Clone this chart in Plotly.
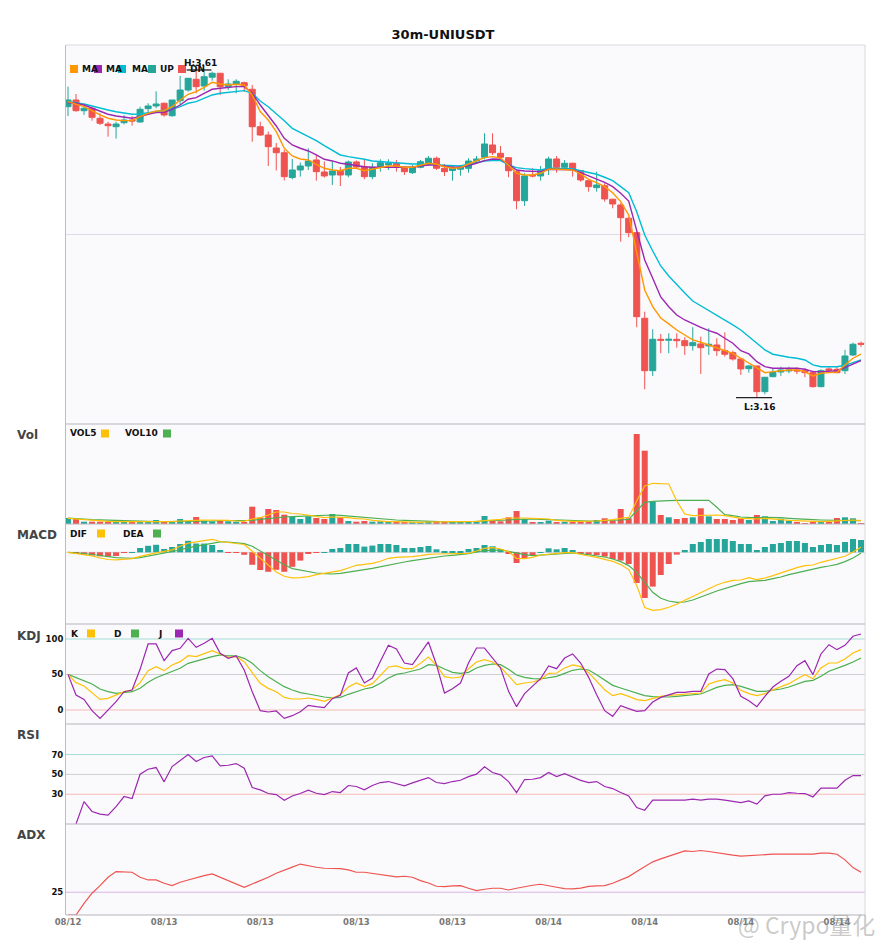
import plotly.graph_objects as go
from plotly.subplots import make_subplots

TITLE = "30m-UNIUSDT"
TICK_IDX = [0, 12, 24, 36, 48, 60, 72, 84, 96]
TICK_TEXT = ["08/12", "08/13", "08/13", "08/13", "08/13", "08/14", "08/14", "08/14", "08/14"]

# candles (USDT)
open_ = [3.5596, 3.5688, 3.5541, 3.5574, 3.5437, 3.5358, 3.5321, 3.5376, 3.5413, 3.5386,
         3.5569, 3.5606, 3.5643, 3.5472, 3.5678, 3.5825, 3.5972, 3.5880, 3.6000, 3.6055,
         3.5871, 3.5908, 3.5926, 3.5835, 3.5321, 3.5207, 3.5029, 3.4964, 3.4624, 3.4727,
         3.4782, 3.4864, 3.4699, 3.4658, 3.4720, 3.4658, 3.4837, 3.4772, 3.4635, 3.4764,
         3.4796, 3.4819, 3.4764, 3.4690, 3.4764, 3.4819, 3.4888, 3.4750, 3.4720, 3.4737,
         3.4750, 3.4855, 3.4901, 3.5070, 3.4956, 3.4896, 3.4704, 3.4305, 3.4658, 3.4645,
         3.4737, 3.4878, 3.4764, 3.4819, 3.4717, 3.4580, 3.4484, 3.4511, 3.4325, 3.4246,
         3.4064, 3.3866, 3.2691, 3.1971, 3.2402, 3.2389, 3.2402, 3.2383, 3.2315, 3.2338,
         3.2311, 3.2324, 3.2246, 3.2219, 3.2132, 3.1999, 3.2036, 3.1683, 3.1889, 3.1953,
         3.1967, 3.1981, 3.1971, 3.1944, 3.1752, 3.1995, 3.1990, 3.1971, 3.2187, 3.2347]
high = [3.5871, 3.5770, 3.5596, 3.5588, 3.5505, 3.5390, 3.5390, 3.5478, 3.5468, 3.5596,
        3.5643, 3.5807, 3.5651, 3.5688, 3.6018, 3.5986, 3.6100, 3.6077, 3.6077, 3.6055,
        3.5972, 3.5972, 3.5939, 3.5894, 3.5390, 3.5253, 3.5098, 3.5001, 3.4878, 3.4830,
        3.5025, 3.4933, 3.4844, 3.4844, 3.4768, 3.4857, 3.4857, 3.4864, 3.4819, 3.4874,
        3.4874, 3.4864, 3.4782, 3.4796, 3.4864, 3.4919, 3.4910, 3.4809, 3.4782, 3.4796,
        3.4888, 3.4919, 3.5231, 3.5231, 3.5056, 3.4896, 3.4717, 3.4682, 3.4750, 3.4782,
        3.4910, 3.4919, 3.4864, 3.4827, 3.4727, 3.4599, 3.4704, 3.4544, 3.4333, 3.4270,
        3.4078, 3.3880, 3.2781, 3.2540, 3.2475, 3.2485, 3.2485, 3.2430, 3.2567, 3.2439,
        3.2554, 3.2416, 3.2498, 3.2246, 3.2141, 3.2050, 3.2036, 3.1881, 3.2004, 3.2026,
        3.2026, 3.2017, 3.2004, 3.1971, 3.1990, 3.2017, 3.2026, 3.2256, 3.2356, 3.2370]
low = [3.5468, 3.5527, 3.5482, 3.5404, 3.5345, 3.5184, 3.5157, 3.5354, 3.5335, 3.5376,
       3.5505, 3.5574, 3.5459, 3.5459, 3.5619, 3.5802, 3.5780, 3.5816, 3.5953, 3.5757,
       3.5825, 3.5780, 3.5802, 3.5115, 3.5194, 3.4782, 3.4720, 3.4583, 3.4599, 3.4635,
       3.4727, 3.4580, 3.4624, 3.4521, 3.4507, 3.4627, 3.4741, 3.4599, 3.4599, 3.4704,
       3.4727, 3.4704, 3.4658, 3.4672, 3.4750, 3.4782, 3.4727, 3.4645, 3.4580, 3.4649,
       3.4690, 3.4819, 3.4874, 3.4933, 3.4874, 3.4627, 3.4187, 3.4233, 3.4627, 3.4580,
       3.4658, 3.4690, 3.4727, 3.4635, 3.4566, 3.4429, 3.4429, 3.4292, 3.4201, 3.3742,
       3.3803, 3.2567, 3.1716, 3.1899, 3.2210, 3.2210, 3.2287, 3.2187, 3.2246, 3.1926,
       3.2187, 3.2173, 3.2164, 3.2109, 3.1912, 3.1944, 3.1600, 3.1647, 3.1881, 3.1899,
       3.1936, 3.1926, 3.1881, 3.1738, 3.1743, 3.1958, 3.1936, 3.1926, 3.2173, 3.2299]
close = [3.5688, 3.5541, 3.5574, 3.5450, 3.5368, 3.5335, 3.5358, 3.5413, 3.5400, 3.5560,
         3.5606, 3.5633, 3.5482, 3.5688, 3.5825, 3.5986, 3.5871, 3.6008, 3.6055, 3.5871,
         3.5908, 3.5945, 3.5880, 3.5321, 3.5207, 3.5047, 3.4964, 3.4635, 3.4727, 3.4782,
         3.4850, 3.4704, 3.4645, 3.4713, 3.4658, 3.4837, 3.4768, 3.4635, 3.4764, 3.4827,
         3.4819, 3.4764, 3.4704, 3.4764, 3.4841, 3.4888, 3.4750, 3.4704, 3.4750, 3.4764,
         3.4850, 3.4878, 3.5084, 3.4964, 3.4901, 3.4717, 3.4305, 3.4645, 3.4645, 3.4717,
         3.4878, 3.4764, 3.4819, 3.4727, 3.4590, 3.4498, 3.4521, 3.4329, 3.4260, 3.4072,
         3.3866, 3.2713, 3.1971, 3.2402, 3.2389, 3.2402, 3.2383, 3.2315, 3.2356, 3.2287,
         3.2334, 3.2246, 3.2197, 3.2132, 3.1995, 3.2036, 3.1683, 3.1881, 3.1949, 3.1981,
         3.1981, 3.1967, 3.1944, 3.1752, 3.1971, 3.1977, 3.1944, 3.2173, 3.2334, 3.2334]

ma_fast = [3.5665, 3.5633, 3.5596, 3.5541, 3.5482, 3.5437, 3.5413, 3.5404, 3.5404, 3.5459,
           3.5505, 3.5537, 3.5541, 3.5596, 3.5688, 3.5766, 3.5802, 3.5862, 3.5931, 3.5908,
           3.5894, 3.5904, 3.5894, 3.5757, 3.5530, 3.5413, 3.5253, 3.5025, 3.4919, 3.4878,
           3.4864, 3.4805, 3.4750, 3.4727, 3.4717, 3.4750, 3.4750, 3.4717, 3.4737, 3.4764,
           3.4782, 3.4782, 3.4764, 3.4764, 3.4796, 3.4819, 3.4805, 3.4772, 3.4750, 3.4759,
           3.4809, 3.4855, 3.4896, 3.4910, 3.4888, 3.4796, 3.4682, 3.4658, 3.4658, 3.4682,
           3.4737, 3.4737, 3.4737, 3.4727, 3.4672, 3.4599, 3.4553, 3.4498, 3.4415, 3.4292,
           3.4109, 3.3583, 3.3079, 3.2850, 3.2695, 3.2613, 3.2530, 3.2461, 3.2393, 3.2361,
           3.2324, 3.2287, 3.2256, 3.2210, 3.2142, 3.2073, 3.2004, 3.1944, 3.1958, 3.1971,
           3.1981, 3.1981, 3.1958, 3.1899, 3.1936, 3.1944, 3.1949, 3.2050, 3.2142, 3.2197]
ma_mid = [3.5651, 3.5643, 3.5619, 3.5574, 3.5527, 3.5492, 3.5468, 3.5451, 3.5437, 3.5459,
          3.5492, 3.5514, 3.5519, 3.5560, 3.5619, 3.5698, 3.5720, 3.5780, 3.5835, 3.5849,
          3.5862, 3.5871, 3.5871, 3.5780, 3.5619, 3.5482, 3.5331, 3.5162, 3.5070, 3.5025,
          3.4988, 3.4933, 3.4874, 3.4851, 3.4819, 3.4805, 3.4786, 3.4772, 3.4764, 3.4764,
          3.4764, 3.4764, 3.4759, 3.4764, 3.4782, 3.4796, 3.4796, 3.4782, 3.4764, 3.4764,
          3.4786, 3.4819, 3.4855, 3.4878, 3.4874, 3.4805, 3.4727, 3.4713, 3.4704, 3.4704,
          3.4737, 3.4737, 3.4737, 3.4731, 3.4690, 3.4645, 3.4607, 3.4558, 3.4498, 3.4407,
          3.4301, 3.3903, 3.3491, 3.3240, 3.2983, 3.2850, 3.2736, 3.2667, 3.2613, 3.2567,
          3.2521, 3.2485, 3.2416, 3.2348, 3.2246, 3.2201, 3.2095, 3.2026, 3.2004, 3.2004,
          3.2004, 3.2004, 3.1991, 3.1958, 3.1958, 3.1963, 3.1971, 3.2013, 3.2059, 3.2109]
ma_slow = [3.5665, 3.5651, 3.5633, 3.5606, 3.5574, 3.5551, 3.5527, 3.5514, 3.5492, 3.5496,
           3.5514, 3.5527, 3.5541, 3.5560, 3.5596, 3.5643, 3.5665, 3.5711, 3.5757, 3.5780,
           3.5794, 3.5812, 3.5816, 3.5780, 3.5674, 3.5596, 3.5505, 3.5404, 3.5299, 3.5245,
           3.5194, 3.5129, 3.5061, 3.5002, 3.4933, 3.4910, 3.4896, 3.4874, 3.4851, 3.4841,
           3.4833, 3.4823, 3.4813, 3.4809, 3.4809, 3.4809, 3.4800, 3.4791, 3.4782, 3.4782,
           3.4809, 3.4833, 3.4851, 3.4855, 3.4855, 3.4796, 3.4759, 3.4745, 3.4737, 3.4727,
           3.4750, 3.4750, 3.4750, 3.4745, 3.4717, 3.4690, 3.4668, 3.4627, 3.4580, 3.4498,
           3.4415, 3.4154, 3.3834, 3.3615, 3.3409, 3.3272, 3.3148, 3.3038, 3.2928, 3.2864,
           3.2795, 3.2726, 3.2667, 3.2599, 3.2530, 3.2438, 3.2348, 3.2256, 3.2197, 3.2173,
           3.2155, 3.2142, 3.2118, 3.2050, 3.2026, 3.2026, 3.2026, 3.2045, 3.2081, 3.2118]

# volume (k)
volume = [6, 5, 2.3, 2.3, 2.3, 2.3, 1.7, 2.3, 1.3, 1.7,
          1.7, 4, 1.3, 2.3, 5, 2.7, 7, 3.3, 2.7, 3.3,
          2.7, 2.3, 1.7, 17.3, 6.7, 15, 14, 9.3, 7.3, 5,
          7.7, 6, 5, 10, 6.7, 3, 2.3, 3, 2.3, 2.7,
          1.3, 2.3, 1.3, 1.3, 1.7, 2.7, 3, 1.3, 2.7, 1.7,
          2.3, 1.7, 8, 3.3, 2.7, 6.7, 13, 5, 2, 2,
          3.3, 2, 2.3, 1.3, 2.7, 2.7, 4, 5.7, 3.3, 15,
          5.7, 90, 73.3, 22.7, 9, 6.7, 5, 6, 6.7, 15.7,
          7.7, 5, 5, 4, 5.7, 4, 9, 7.7, 3, 5.3,
          3, 2, 1, 2.3, 1.3, 1.3, 6, 6.7, 5.7, 0.7]
vol5 = [5.7, 5, 4.3, 3.7, 3.3, 2.7, 2.3, 2.3, 2.3, 2,
        1.7, 2.3, 2.3, 2.3, 3, 3, 3.7, 4, 4, 4,
        3.7, 3, 2.7, 5, 6.3, 9, 12, 12, 10.5, 10,
        8.7, 7.3, 6.3, 7, 7, 6.3, 5.3, 5, 3.7, 2.7,
        2.3, 2.3, 2, 1.7, 1.7, 2, 2.3, 2, 2.3, 2.3,
        2.3, 2.7, 3.3, 3.7, 4.7, 6, 6.3, 6, 5.7, 5.3,
        5, 3.7, 3, 2.7, 2.7, 2.7, 3, 3.7, 4.3, 5.7,
        6.7, 23, 38, 40.7, 40.3, 40, 23, 10, 8.3, 8.7,
        9.3, 9, 8.3, 7, 5.7, 5.3, 5, 5.7, 5.3, 4.3,
        3.7, 3.3, 3, 2.3, 2.3, 2.7, 3, 4, 4, 3.3]
vol10 = [6, 5.7, 5, 4.3, 4, 3.7, 3.3, 3, 2.7, 2.3,
         2.3, 2.3, 2.3, 2.3, 2.7, 2.7, 3, 3, 3, 3.3,
         3.3, 3.3, 3.3, 3.7, 4.7, 5.7, 6.3, 7, 7.3, 7.7,
         8.3, 8.7, 8.7, 9, 8.7, 8, 7.3, 6.3, 5.7, 5,
         4.3, 4, 3.7, 3.3, 3, 2.7, 2.3, 2, 2, 2,
         2.3, 2.3, 3, 3, 3.3, 4, 4.7, 5, 5, 4.7,
         4.3, 4, 3.7, 3.3, 3, 3, 3, 3.3, 3.3, 4,
         4.7, 13, 21.7, 22.7, 23.3, 23.3, 23.7, 23.7, 23.7, 23.7,
         23.7, 16.7, 9.3, 8.3, 7, 6.7, 6.7, 6.7, 6.7, 6.3,
         5.7, 5, 4.7, 4.3, 4, 3.7, 3.7, 3.7, 3.3, 3.3]

# MACD (x 0.001)
macd_hist = [0, -1.5, -2.3, -3.2, -4, -4.3, -3.7, -0.7, 0.2, 4.3,
             6.5, 7.5, 3.3, 5.3, 8.3, 11.5, 8.8, 8.7, 7.3, 2.3,
             -0.7, -0.7, -2.5, -12.5, -17.7, -19.5, -17.5, -19.5, -14.5, -8.3,
             -1.7, -0.7, 0.3, 3.3, 4.3, 8.3, 8.3, 5.7, 6.7, 8.3,
             8.3, 7.3, 4.3, 4.3, 5.3, 6.3, 3, 1.3, 1.3, 1.3,
             3.3, 4.3, 7.3, 6, 3.3, -1.7, -10.7, -6, -3.3, 0.3,
             4, 3, 4.3, 2.3, -1.7, -2.3, -2.7, -4.3, -6.7, -8.3,
             -11.7, -30.7, -45.7, -34.3, -22.7, -11.7, -2.3, 2.3, 8.3, 10.3,
             13.3, 13.3, 13.3, 11.3, 8.3, 8.3, 2.3, 5.3, 8.3, 9.3,
             11.3, 11.3, 9.3, 5.3, 7.3, 8.3, 7.3, 10.3, 13.3, 12.3]
dif = [0, -1.2, -2, -3.7, -5.7, -7.2, -7.5, -7.2, -6.3, -4,
       -2, -0.5, 1, 2.5, 6, 9.2, 10.5, 12, 13, 10.8,
       10, 9.3, 7.8, 1, -6, -13.3, -19.7, -24, -25.5, -25.3,
       -24.3, -22.3, -21, -20, -18.3, -15.7, -13, -12, -11, -9,
       -6, -5, -5, -4.3, -3.3, -2, -1.7, -1.7, -1.3, -1,
       -1, 1.3, 4, 4.7, 3.3, 0.7, -6, -6.3, -5, -2.7,
       -1.7, -0.7, -0.3, -0.3, -2.3, -3.7, -5, -7, -9, -12.3,
       -17.3, -33.3, -55.3, -58, -57.3, -55, -52, -48, -44.3, -40,
       -36.3, -32.7, -30, -28, -27.7, -25.3, -27.3, -25.7, -23.3, -20.7,
       -17.7, -15.3, -13.3, -12.7, -10, -8, -6.7, -4, 0.3, 5]
dea = [0, -0.3, -1.2, -2.2, -3.3, -4.3, -5.3, -5.7, -6, -5.3,
       -3.8, -2.5, -1, 0.3, 2.3, 4.7, 6.2, 7.8, 9.3, 10.5,
       10.3, 9.7, 8.7, 6, 1.3, -3.5, -8.2, -12.5, -16.3, -17.7,
       -19.3, -20.7, -21.3, -21.7, -21, -20, -18.7, -17.3, -16, -14.3,
       -12.7, -11, -9.7, -8.3, -7, -6, -4.7, -3.7, -3, -2.3,
       -1.3, 0.3, 1.7, 2, 2.3, 1, -0.7, -2.3, -3.3, -2.7,
       -2, -1.3, -1, -0.7, -1.3, -2.3, -3, -4.7, -6.7, -9.3,
       -13.3, -20, -30, -40, -46, -48.7, -50, -49.7, -47.7, -45,
       -41.7, -38.7, -36, -33.3, -31.3, -29.3, -28.7, -28, -26.3, -24.7,
       -22.3, -20.3, -18.3, -16.3, -15, -13.7, -12, -9.3, -5.7, -1]

kdj_k = [50.2, 38.5, 33.8, 24.4, 15, 16.4, 21.1, 25.8, 28.2, 38.5,
         55.4, 61, 55.4, 63.4, 68.1, 76.5, 75.1, 79.8, 83.6, 78.9,
         74.2, 75.1, 68.1, 52.6, 37.6, 30.5, 25.8, 17.8, 15.5, 15.5,
         16.9, 15, 12.2, 16.9, 21.6, 32.4, 38, 32.9, 37.1, 48.8,
         60.6, 62, 58.2, 58.2, 65.7, 74.6, 62.9, 46.9, 45.1, 46.5,
         58.2, 67.6, 70.9, 67.6, 60.1, 48.4, 35.7, 38, 39.4, 42.7,
         51.6, 52.1, 59.2, 63.4, 61, 52.6, 41.3, 28.6, 20.2, 23,
         19.2, 14.6, 13.1, 16, 19.2, 20.7, 21.6, 23, 23.9, 23.9,
         36.6, 40.4, 42.7, 38, 27.7, 23, 20.2, 23, 28.6, 33.3,
         37.1, 43.7, 49.8, 44.1, 59.2, 66.2, 66.2, 71.8, 80.3, 85]
kdj_d = [50.2, 46, 41.3, 36.6, 29.6, 25.8, 23.5, 24.4, 25.8, 30.5,
         39, 45.5, 50.2, 54.9, 58.7, 65.7, 69, 71.8, 75.1, 77.5,
         76.1, 76.1, 72.8, 65.7, 55.4, 46.9, 39.9, 32.9, 28.2, 24.5,
         22.5, 20.2, 18.3, 16.9, 17.8, 22.1, 26.3, 29.6, 31.9, 37.6,
         45.1, 50.2, 52.1, 54.5, 57.7, 63.8, 62.9, 57.7, 53.1, 51.6,
         53.1, 59.2, 62.9, 64.8, 63.8, 57.3, 49.3, 46, 44.1, 43.7,
         46, 47.4, 51.6, 55.9, 57.7, 56.3, 49.8, 42.7, 34.7, 31,
         27.2, 23, 20.2, 18.8, 18.3, 18.3, 19.2, 20.2, 21.1, 22.5,
         27.2, 31.9, 34.7, 35.7, 33.3, 29.6, 26.3, 26.3, 27.7, 29.6,
         32.4, 36.6, 40.4, 41.8, 47.4, 54.5, 58.2, 62.9, 67.6, 73.2]
kdj_j = [50.2, 21.1, 15, -0.9, -11.7, 0, 11.7, 25.8, 28.2, 57.3,
         93, 93, 69.5, 83.6, 86.9, 100.9, 88.3, 93.9, 100.9, 79.8,
         72.8, 76.1, 56.3, 25.8, -0.9, -2.8, -1.4, -11.7, -8, -2.5,
         6.6, 4.7, 3.3, 16, 20.7, 52.1, 59.2, 38, 45.1, 68.5,
         91.1, 85.9, 66.2, 63.8, 80.3, 95.8, 63.8, 23.9, 30, 38,
         66.2, 87.3, 87.3, 73.2, 59.2, 26.3, 4.7, 23, 33.3, 44.1,
         62, 58.2, 73.2, 78.9, 66.2, 46, 21.6, -0.9, -8.9, 6.1,
         1.9, -1.9, -0.9, 11.3, 17.8, 21.6, 24.9, 24.9, 26.3, 26.3,
         50.7, 57.7, 56.8, 44.1, 19.2, 13.1, 4.7, 19.2, 32.4, 40.4,
         47.4, 62.4, 69.5, 49.8, 78.9, 92, 85, 91.1, 103.8, 107]

rsi = [None, 0, 22.6, 12.6, 9.9, 8.9, 17.6, 27.7, 25.7, 50.2,
       55.2, 56.9, 42.5, 57.9, 63.6, 70, 63, 67, 68.6, 58.6,
       59.2, 60.9, 56.2, 36.7, 34.4, 30.7, 29.7, 24, 28.2, 30.7,
       34.1, 31, 29.7, 32.7, 31.7, 38.8, 37.8, 34.4, 38.8, 41.8,
       42.8, 40.8, 38.4, 41.4, 44.5, 46.8, 41.8, 40.8, 42.8, 44.1,
       47.8, 50.2, 57.6, 51.9, 49.5, 42.8, 31.7, 44.8, 45.1, 46.8,
       51.9, 47.8, 50.8, 47.5, 44, 41.8, 42.8, 37.8, 35.7, 31.7,
       28.3, 16.6, 13.9, 24, 24, 24, 24, 24, 25, 24,
       25, 25, 24, 22.6, 21.6, 23.3, 20, 28.3, 30, 30,
       31.7, 31, 30.7, 27.3, 36.1, 36.1, 36.1, 44.1, 48.8, 48.8]

adx = [0, 0, 12.8, 23.9, 32.3, 41.5, 47.7, 47.7, 47, 41.5,
       38.5, 38.5, 34.9, 32.3, 36, 38.5, 41.1, 43.3, 45.2, 41.5,
       37.8, 33.8, 30.5, 34.1, 37.4, 41.5, 45.9, 49.6, 52.6, 56,
       54, 52.5, 51.4, 51.4, 51, 49.6, 47, 47, 45.9, 44.1,
       43, 41.9, 42.6, 41.5, 37.8, 35.2, 31.6, 31.2, 31.9, 32.3,
       29.4, 26.8, 28.3, 29.4, 29.4, 27.5, 29.4, 31.2, 32.7, 33.8,
       31.9, 30.5, 29, 28.6, 29.5, 31.5, 31.9, 32.3, 34.9, 38.9,
       42.2, 47.7, 53.2, 58.4, 61.7, 64.6, 67.9, 70.5, 69.8, 70.9,
       69.8, 68.3, 66.4, 65.7, 64.6, 65.3, 66.1, 66.1, 66.8, 66.8,
       66.8, 66.1, 66.1, 66.8, 67.9, 67.9, 66.8, 60.6, 52.1, 47]

UP, DN = "#26a69a", "#ef5350"
ORANGE, PURPLE, CYAN = "#ff9800", "#9c27b0", "#00bcd4"
YELLOW, GREEN = "#ffc107", "#4caf50"
FONT = "DejaVu Sans"

# the page body adds 8px around the figure, so the figure is sized to fit inside the window
W, H = 869, 934
ML, MR, MT, MB = 58, 12, 37, 27
# plot area in page pixels
PL, PT = 8 + ML, 8 + MT
PW, PH = W - ML - MR, H - MT - MB


def pxx(x):
    return (x - PL) / PW


def pxy(y):
    return (PT + PH - y) / PH


idx = list(range(len(close)))
n = len(close)

fig = make_subplots(rows=6, cols=1, shared_xaxes=True, vertical_spacing=0,
                    row_heights=[379, 100, 100, 100, 100, 91])

fig.add_trace(go.Candlestick(
    x=idx, open=open_, high=high, low=low, close=close,
    increasing=dict(line=dict(color=UP, width=1), fillcolor=UP),
    decreasing=dict(line=dict(color=DN, width=1), fillcolor=DN),
    whiskerwidth=0, hoverinfo="skip"), row=1, col=1)
for ys, c in [(ma_slow, CYAN), (ma_mid, PURPLE), (ma_fast, ORANGE)]:
    fig.add_trace(go.Scatter(x=idx, y=ys, mode="lines", line=dict(color=c, width=1.4)), row=1, col=1)

bar_colors = [UP if c >= o else DN for o, c in zip(open_, close)]
fig.add_trace(go.Bar(x=idx, y=volume, marker=dict(color=bar_colors, line=dict(width=0))), row=2, col=1)
fig.add_trace(go.Scatter(x=idx, y=vol10, mode="lines", line=dict(color=GREEN, width=1.2)), row=2, col=1)
fig.add_trace(go.Scatter(x=idx, y=vol5, mode="lines", line=dict(color=YELLOW, width=1.2)), row=2, col=1)

hist_colors = [UP if v >= 0 else DN for v in macd_hist]
fig.add_trace(go.Bar(x=idx, y=macd_hist, marker=dict(color=hist_colors, line=dict(width=0))), row=3, col=1)
fig.add_trace(go.Scatter(x=idx, y=dea, mode="lines", line=dict(color=GREEN, width=1.2)), row=3, col=1)
fig.add_trace(go.Scatter(x=idx, y=dif, mode="lines", line=dict(color=YELLOW, width=1.2)), row=3, col=1)

fig.add_trace(go.Scatter(x=idx, y=kdj_d, mode="lines", line=dict(color=GREEN, width=1.2)), row=4, col=1)
fig.add_trace(go.Scatter(x=idx, y=kdj_k, mode="lines", line=dict(color=YELLOW, width=1.2)), row=4, col=1)
fig.add_trace(go.Scatter(x=idx, y=kdj_j, mode="lines", line=dict(color=PURPLE, width=1.2)), row=4, col=1)

fig.add_trace(go.Scatter(x=idx, y=rsi, mode="lines", line=dict(color=PURPLE, width=1.2)), row=5, col=1)
fig.add_trace(go.Scatter(x=idx, y=adx, mode="lines", line=dict(color=DN, width=1.2)), row=6, col=1)

fig.update_xaxes(range=[-0.25, n - 0.5], showgrid=False, zeroline=False, showticklabels=False,
                 rangeslider_visible=False, ticks="")
fig.update_xaxes(row=6, col=1, showticklabels=True, tickvals=TICK_IDX, ticktext=TICK_TEXT,
                 tickfont=dict(family=FONT, size=8.5, color="#777777", weight="bold"))
fig.update_yaxes(showgrid=False, zeroline=False, showticklabels=False, ticks="",
                 showline=True, linecolor="#bcbcc4", linewidth=1)
tick_font = dict(family=FONT, size=8.5, color="#111111", weight="bold")
fig.update_yaxes(row=1, col=1, range=[3.1239, 3.6443])
fig.update_yaxes(row=2, col=1, range=[0, 100])
fig.update_yaxes(row=3, col=1, range=[-71.7, 28.3])
fig.update_yaxes(row=4, col=1, range=[-19.7, 121.1], showticklabels=True, tickvals=[0, 50, 100], tickfont=tick_font)
fig.update_yaxes(row=5, col=1, range=[0, 100.8], showticklabels=True, tickvals=[30, 50, 70], tickfont=tick_font)
fig.update_yaxes(row=6, col=1, range=[0, 100], showticklabels=True, tickvals=[25], tickfont=tick_font)

shapes = []
# frame and pane separators
shapes.append(dict(type="line", xref="paper", yref="paper", x0=0, x1=1, y0=1, y1=1, line=dict(color="#d8d8e0", width=1)))
shapes.append(dict(type="line", xref="paper", yref="paper", x0=1, x1=1, y0=0, y1=1, line=dict(color="#d8d8e0", width=1)))
for yb in [424, 524, 624, 724, 824, 915]:
    shapes.append(dict(type="line", xref="paper", yref="paper", x0=0, x1=1, y0=pxy(yb), y1=pxy(yb),
                       line=dict(color="#b4b4bc", width=1)))
shapes.append(dict(type="line", xref="paper", yref="y domain", x0=0, x1=1, y0=0.5, y1=0.5,
                   line=dict(color="#dedbe8", width=1), layer="below"))
shapes.append(dict(type="line", xref="paper", yref="y3", x0=0, x1=1, y0=0, y1=0,
                   line=dict(color="#d4d4d8", width=1), layer="below"))
levels = [("y4", 100, "#a3ddd5"), ("y4", 50, "#cfcfd3"), ("y4", 0, "#f6b9b9"),
          ("y5", 70, "#a3ddd5"), ("y5", 50, "#cfcfd3"), ("y5", 30, "#f6b9b9"),
          ("y6", 25, "#dcb6e4")]
for yr, v, c in levels:
    shapes.append(dict(type="line", xref="paper", yref=yr, x0=0, x1=1, y0=v, y1=v,
                       line=dict(color=c, width=1), layer="below"))

# high / low markers
hi_i = max(idx, key=lambda i: high[i])
lo_i = min(idx, key=lambda i: low[i])
shapes.append(dict(type="line", xref="x", yref="y", x0=hi_i - 1.2, x1=hi_i + 1.9, y0=high[hi_i], y1=high[hi_i],
                   line=dict(color="#222222", width=1.3)))
shapes.append(dict(type="line", xref="x", yref="y", x0=lo_i - 2.6, x1=lo_i + 1.9, y0=low[lo_i], y1=low[lo_i],
                   line=dict(color="#222222", width=1.3)))

annotations = [
    dict(x=hi_i + 0.5, y=high[hi_i], xref="x", yref="y", text="H:%.2f" % high[hi_i], showarrow=False,
         yanchor="bottom", xanchor="center", font=dict(family=FONT, size=9, color="#111111", weight="bold")),
    dict(x=lo_i + 0.4, y=low[lo_i], xref="x", yref="y", text="L:%.2f" % low[lo_i], showarrow=False,
         yanchor="top", yshift=-2, xanchor="center", font=dict(family=FONT, size=9, color="#111111", weight="bold")),
]


def label(x, y, text, size=9, color="#111111"):
    annotations.append(dict(x=pxx(x), y=pxy(y), xref="paper", yref="paper", text=text, showarrow=False,
                            xanchor="left", yanchor="middle",
                            font=dict(family=FONT, size=size, color=color, weight="bold")))


def square(x, y, color, s=8):
    shapes.append(dict(type="rect", xref="paper", yref="paper", x0=pxx(x), x1=pxx(x + s),
                       y0=pxy(y + s / 2), y1=pxy(y - s / 2), fillcolor=color, line=dict(width=0)))


# candle legend
for sx, tx, c in [(70, 80, ORANGE), (94, 104, PURPLE), (118, 130, CYAN)]:
    square(sx, 69, c)
    label(tx, 69, "MA")
square(148, 69, UP)
label(158, 69, "UP")
square(178, 69, DN)
label(188, 69, "DN")

label(68, 433.5, "VOL5")
square(101, 433.5, YELLOW)
label(123, 433.5, "VOL10")
square(163, 433.5, GREEN)

label(68, 533.5, "DIF")
square(97, 533.5, YELLOW)
label(121, 533.5, "DEA")
square(153, 533.5, GREEN)

label(69, 633.5, "K")
square(87, 633.5, YELLOW)
label(112, 633.5, "D")
square(131, 633.5, GREEN)
label(156, 633.5, "J")
square(175, 633.5, PURPLE)

for y, t in [(435, "Vol"), (535, "MACD"), (636, "KDJ"), (735, "RSI"), (835, "ADX")]:
    label(15, y, t, size=12, color="#444444")

# source watermark
annotations.append(dict(x=pxx(736), y=pxy(924), xref="paper", yref="paper", text="@ Crypo量化",
                        showarrow=False, xanchor="left", yanchor="middle",
                        font=dict(family="Noto Sans CJK SC", size=23, color="rgba(150,150,150,0.5)")))

fig.update_layout(
    width=W, height=H,
    margin=dict(l=ML, r=MR, t=MT, b=MB),
    paper_bgcolor="white", plot_bgcolor="#fafafc",
    showlegend=False, hovermode=False,
    boxgap=0.25, boxgroupgap=0, bargap=0.25,
    title=dict(text=TITLE, x=(443 - 8) / W, xref="container", xanchor="center", y=1 - (34 - 8) / H,
               yanchor="middle", font=dict(family=FONT, size=13, color="#111111", weight="bold")),
    shapes=shapes, annotations=annotations,
)

fig.write_html("out.html")
